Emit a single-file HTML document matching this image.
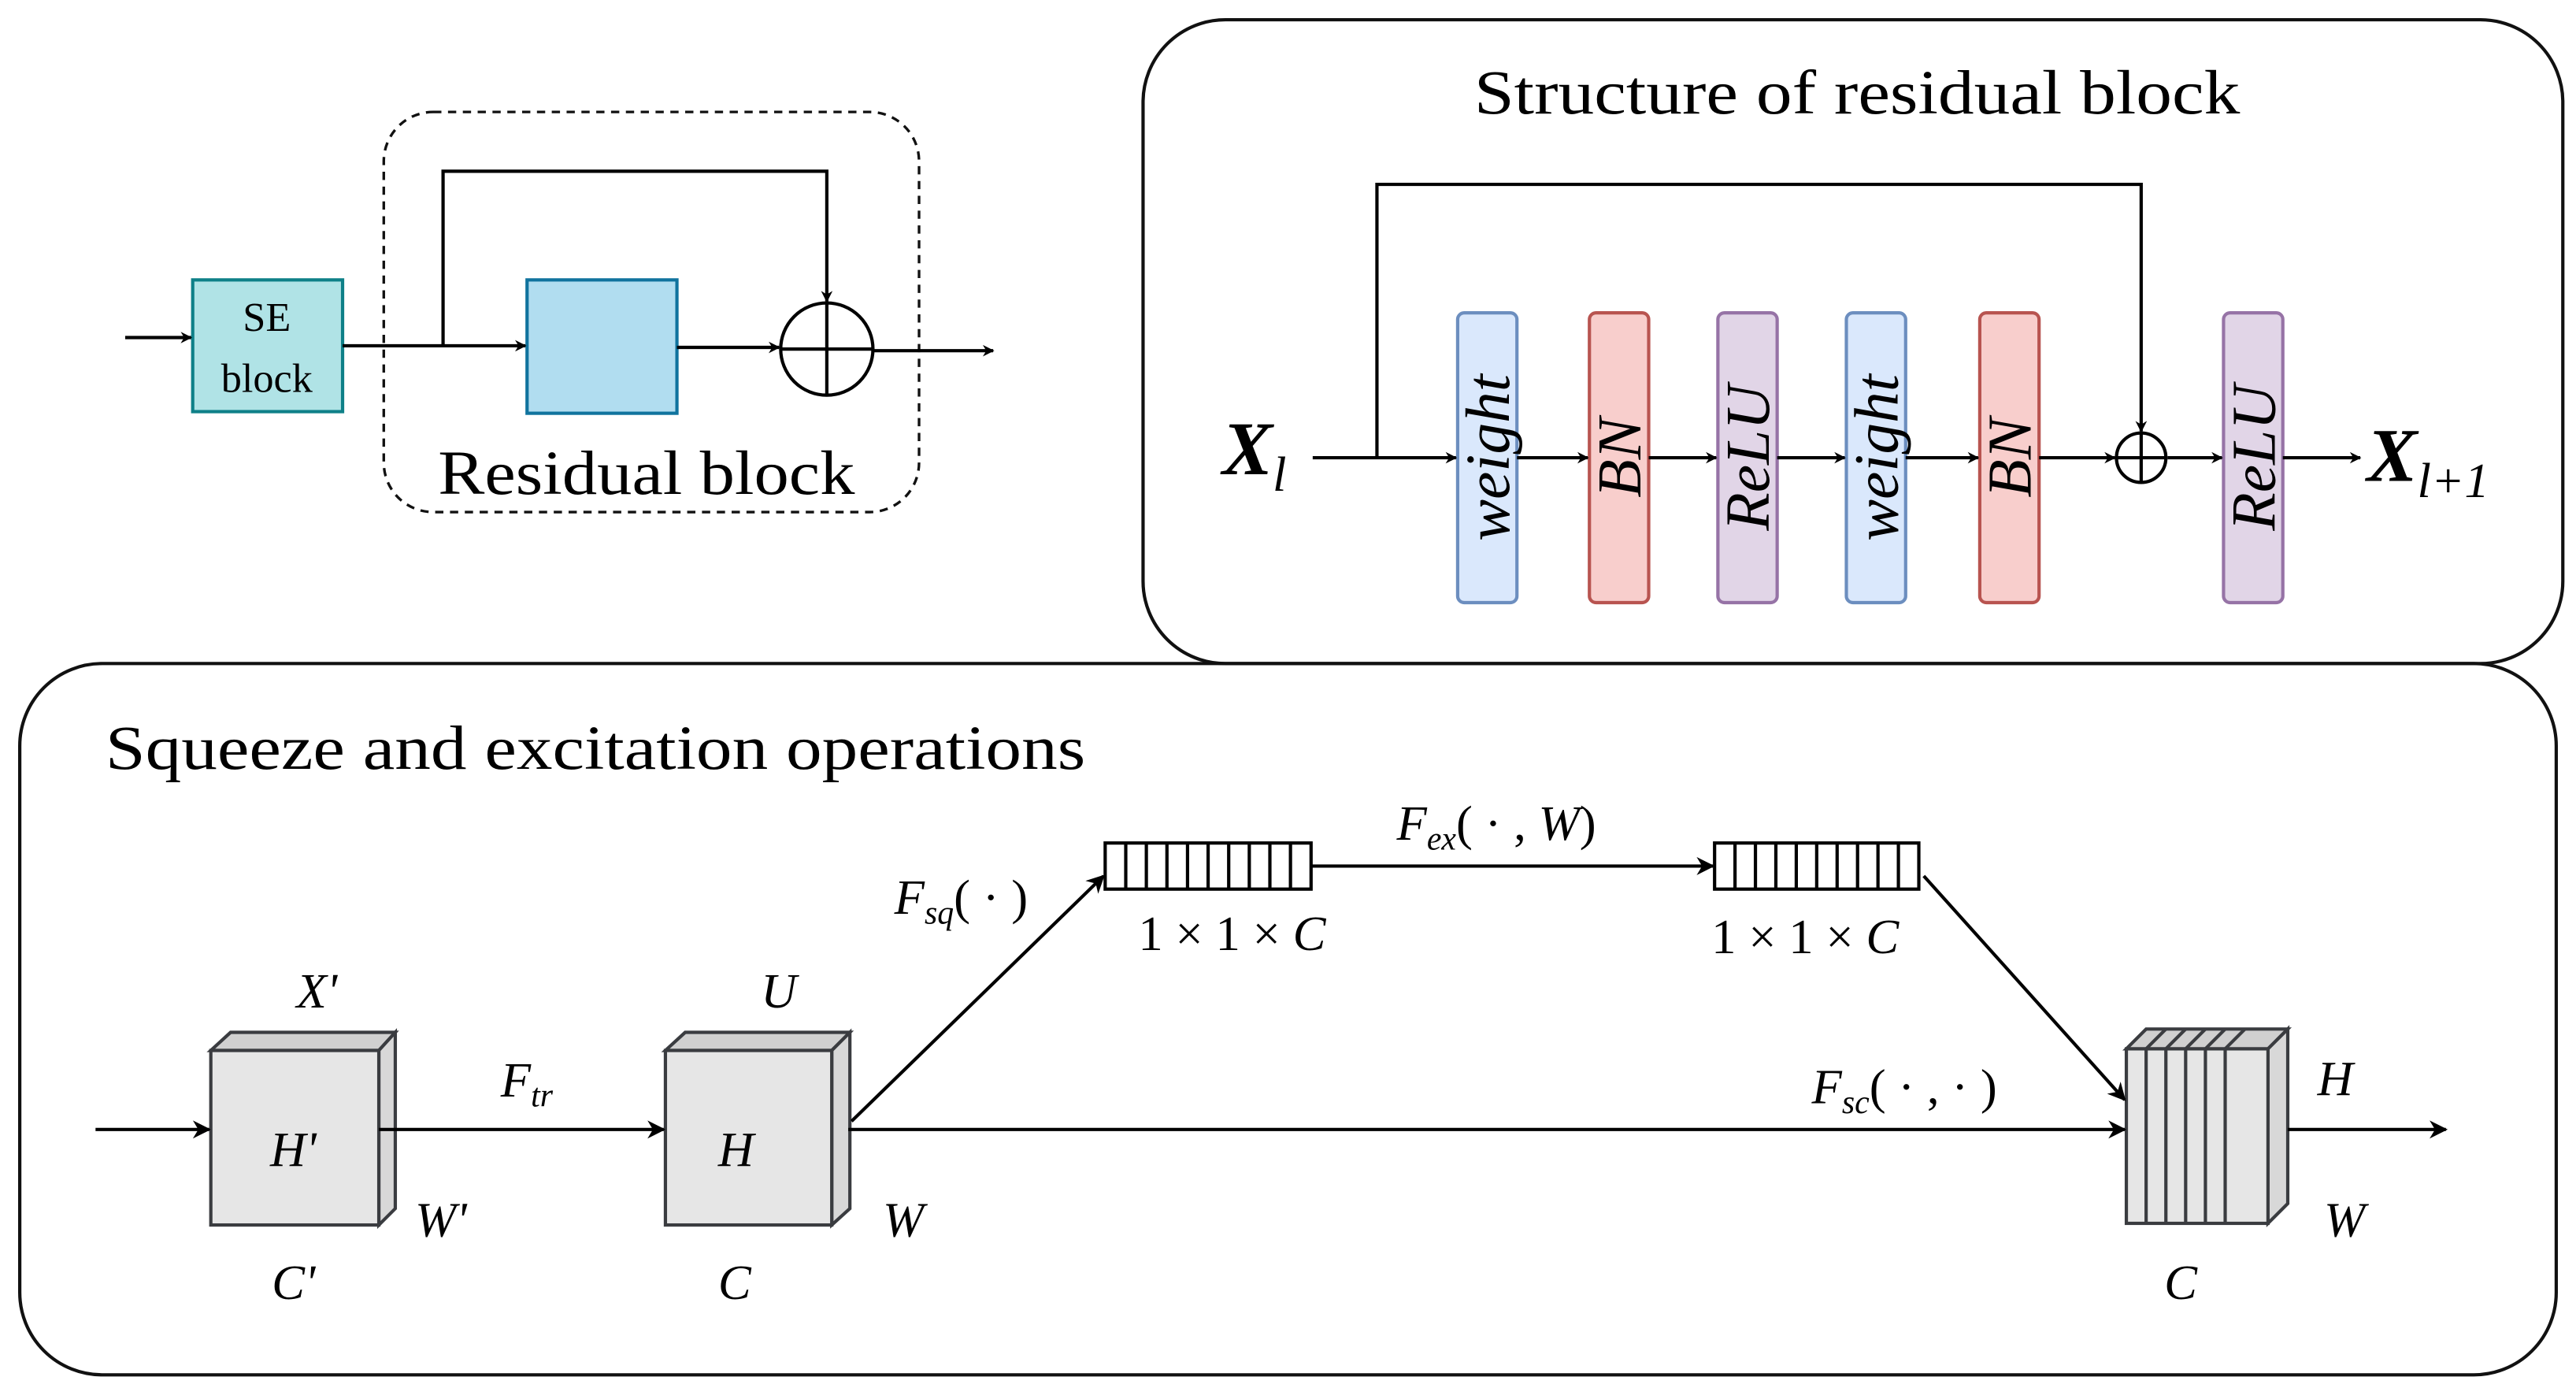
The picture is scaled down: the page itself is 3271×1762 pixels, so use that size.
<!DOCTYPE html>
<html><head><meta charset="utf-8"><style>html,body{margin:0;padding:0;background:#fff}svg{display:block}</style></head>
<body>
<svg width="3271" height="1762" viewBox="0 0 1564 843" preserveAspectRatio="none" xmlns="http://www.w3.org/2000/svg" font-family="Liberation Serif, serif">
<defs>
<marker id="a" viewBox="0 0 10 10" refX="9" refY="5" markerWidth="7" markerHeight="7" orient="auto" markerUnits="userSpaceOnUse"><path d="M0,0 L10,5 L0,10 L3,5 z" fill="#000"/></marker>
<marker id="b" viewBox="0 0 10 10" refX="9" refY="5" markerWidth="11" markerHeight="11" orient="auto" markerUnits="userSpaceOnUse"><path d="M0,0 L10,5 L0,10 L3,5 z" fill="#000"/></marker>
</defs>
<g fill="none" stroke="#111" stroke-width="2">
<rect x="694" y="12" width="862" height="391" rx="50"/>
<rect x="12" y="403" width="1540" height="432" rx="50"/>
<rect x="233" y="68" width="325" height="243" rx="30" stroke-dasharray="5,4" stroke-width="1.6"/>
</g>
<!-- top-left -->
<rect x="117" y="170" width="91" height="80" fill="#b0e3e6" stroke="#0e8088" stroke-width="2"/>
<text x="162" y="201" font-size="25" text-anchor="middle">SE</text>
<text x="162" y="238" font-size="25" text-anchor="middle">block</text>
<rect x="320" y="170" width="91" height="81" fill="#b1ddf0" stroke="#10739e" stroke-width="2"/>
<circle cx="502" cy="212" r="28" fill="none" stroke="#000" stroke-width="2"/>
<path d="M474 212 H530 M502 184 V240" stroke="#000" stroke-width="2"/>
<g stroke="#000" stroke-width="2" fill="none">
<path d="M76 205 H116" marker-end="url(#a)"/>
<path d="M208 210 H319" marker-end="url(#a)"/>
<path d="M269 210 V104 H502 V183" marker-end="url(#a)"/>
<path d="M411 211 H473" marker-end="url(#a)"/>
<path d="M530 213 H603" marker-end="url(#a)"/>
</g>
<text x="266" y="300" font-size="38" textLength="253" lengthAdjust="spacingAndGlyphs">Residual block</text>
<!-- top right -->
<text x="895" y="69" font-size="38" textLength="465" lengthAdjust="spacingAndGlyphs">Structure of residual block</text>
<g stroke-width="2">
<rect x="885" y="190" width="36" height="176" rx="4" fill="#dae8fc" stroke="#6c8ebf"/>
<rect x="965" y="190" width="36" height="176" rx="4" fill="#f8cecc" stroke="#b85450"/>
<rect x="1043" y="190" width="36" height="176" rx="4" fill="#e1d5e7" stroke="#9673a6"/>
<rect x="1121" y="190" width="36" height="176" rx="4" fill="#dae8fc" stroke="#6c8ebf"/>
<rect x="1202" y="190" width="36" height="176" rx="4" fill="#f8cecc" stroke="#b85450"/>
<rect x="1350" y="190" width="36" height="176" rx="4" fill="#e1d5e7" stroke="#9673a6"/>
</g>
<g font-size="38" font-style="italic" text-anchor="middle">
<text transform="translate(916,278) rotate(-90)">weight</text>
<text transform="translate(996,278) rotate(-90)">BN</text>
<text transform="translate(1074,278) rotate(-90)">ReLU</text>
<text transform="translate(1152,278) rotate(-90)">weight</text>
<text transform="translate(1233,278) rotate(-90)">BN</text>
<text transform="translate(1381,278) rotate(-90)">ReLU</text>
</g>
<g stroke="#000" stroke-width="2" fill="none">
<path d="M797 278 H884" marker-end="url(#a)"/>
<path d="M921 278 H964" marker-end="url(#a)"/>
<path d="M1001 278 H1042" marker-end="url(#a)"/>
<path d="M1079 278 H1120" marker-end="url(#a)"/>
<path d="M1157 278 H1201" marker-end="url(#a)"/>
<path d="M1238 278 H1284" marker-end="url(#a)"/>
<path d="M1316 278 H1349" marker-end="url(#a)"/>
<path d="M1386 278 H1433" marker-end="url(#a)"/>
<path d="M836 278 V112 H1300 V262" marker-end="url(#a)"/>
<circle cx="1300" cy="278" r="15"/>
<path d="M1285 278 H1315 M1300 263 V293"/>
</g>
<text x="742" y="288" font-size="46" font-style="italic" font-weight="bold">X<tspan font-size="30" font-weight="normal" dy="10">l</tspan></text>
<text x="1437" y="292" font-size="46" font-style="italic" font-weight="bold">X<tspan font-size="30" font-weight="normal" dy="10">l+1</tspan></text>
<!-- bottom -->
<text x="64" y="467" font-size="38" textLength="595" lengthAdjust="spacingAndGlyphs">Squeeze and excitation operations</text>
<g stroke="#3a3c40" stroke-width="2">
<path d="M128 638 L140 627 H240 L230 638 Z" fill="#d0d0d0"/>
<path d="M230 638 L240 627 V734 L230 744 Z" fill="#d8d8d8"/>
<rect x="128" y="638" width="102" height="106" fill="#e6e6e6"/>
<path d="M404 638 L416 627 H516 L505 638 Z" fill="#d0d0d0"/>
<path d="M505 638 L516 627 V734 L505 744 Z" fill="#d8d8d8"/>
<rect x="404" y="638" width="101" height="106" fill="#e6e6e6"/>
<path d="M1291 637 L1303 625 H1389 L1377 637 Z" fill="#d0d0d0"/>
<path d="M1377 637 L1389 625 V731 L1377 743 Z" fill="#d8d8d8"/>
<rect x="1291" y="637" width="86" height="106" fill="#e6e6e6"/>
<path d="M1303 637 V743 M1303 637 L1315 625 M1315 637 V743 M1315 637 L1327 625 M1327 637 V743 M1327 637 L1339 625 M1339 637 V743 M1339 637 L1351 625 M1351 637 V743 M1351 637 L1363 625" fill="none"/>
</g>
<g stroke="#000" stroke-width="2" fill="#fff">
<rect x="671" y="512" width="125" height="28"/>
<rect x="1041" y="512" width="124" height="28"/>
<path d="M683.5 512 V540 M696 512 V540 M708.5 512 V540 M721 512 V540 M733.5 512 V540 M746 512 V540 M758.5 512 V540 M771 512 V540 M783.5 512 V540" fill="none"/>
<path d="M1053.4 512 V540 M1065.8 512 V540 M1078.2 512 V540 M1090.6 512 V540 M1103 512 V540 M1115.4 512 V540 M1127.8 512 V540 M1140.2 512 V540 M1152.6 512 V540" fill="none"/>
</g>
<g stroke="#000" stroke-width="2" fill="none">
<path d="M58 686 H127" marker-end="url(#b)"/>
<path d="M230 686 H403" marker-end="url(#b)"/>
<path d="M515 686 H1290" marker-end="url(#b)"/>
<path d="M517 681 L670 532" marker-end="url(#b)"/>
<path d="M796 526 H1040" marker-end="url(#b)"/>
<path d="M1168 532 L1290 668" marker-end="url(#b)"/>
<path d="M1389 686 H1485" marker-end="url(#b)"/>
</g>
<g font-size="30" font-style="italic">
<text x="180" y="612">X'</text>
<text x="164" y="708">H'</text>
<text x="252" y="751">W'</text>
<text x="165" y="789">C'</text>
<text x="304" y="666">F<tspan font-size="20" dy="6">tr</tspan></text>
<text x="462" y="612">U</text>
<text x="436" y="708">H</text>
<text x="536" y="751">W</text>
<text x="436" y="789">C</text>
<text x="543" y="555">F<tspan font-size="20" dy="6">sq</tspan><tspan dy="-6" font-style="normal">( · )</tspan></text>
<text x="848" y="510">F<tspan font-size="20" dy="6">ex</tspan><tspan dy="-6" font-style="normal">( · ,</tspan> W<tspan font-style="normal">)</tspan></text>
<text x="1100" y="670">F<tspan font-size="20" dy="6">sc</tspan><tspan dy="-6" font-style="normal">( · ,  · )</tspan></text>
<text x="1407" y="665">H</text>
<text x="1411" y="751">W</text>
<text x="1314" y="789">C</text>
</g>
<g font-size="30" text-anchor="middle">
<text x="748" y="577">1 × 1 × <tspan font-style="italic">C</tspan></text>
<text x="1096" y="579">1 × 1 × <tspan font-style="italic">C</tspan></text>
</g>
</svg>
</body></html>
